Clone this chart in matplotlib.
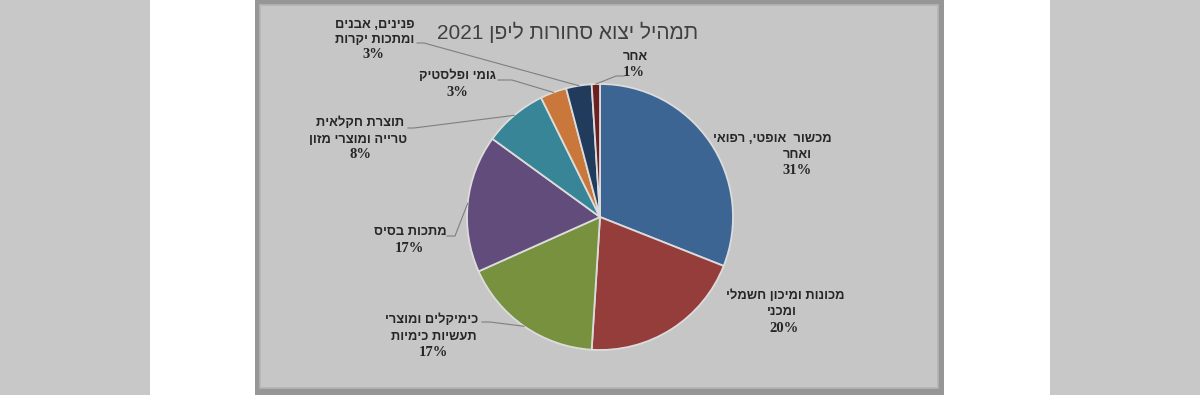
import matplotlib
matplotlib.use("Agg")
import numpy as np
import matplotlib.pyplot as plt
from matplotlib.patches import Rectangle

# data (share of exports, %)
categories = [
    "מכשור אופטי, רפואי ואחר",
    "מכונות ומיכון חשמלי ומכני",
    "כימיקלים ומוצרי תעשיות כימיות",
    "מתכות בסיס",
    "תוצרת חקלאית טרייה ומוצרי מזון",
    "גומי ופלסטיק",
    "פנינים, אבנים ומתכות יקרות",
    "אחר",
]
values = [31.0, 20.0, 17.3, 16.7, 7.7, 3.2, 3.1, 1.0]
label_lines = [
    ["מכשור  אופטי, רפואי", "ואחר"],
    ["מכונות ומיכון חשמלי", "ומכני"],
    ["כימיקלים ומוצרי", "תעשיות כימיות"],
    ["מתכות בסיס"],
    ["תוצרת חקלאית", "טרייה ומוצרי מזון"],
    ["גומי ופלסטיק"],
    ["פנינים, אבנים", "ומתכות יקרות"],
    ["אחר"],
]
title_he = "תמהיל יצוא סחורות ליפן"
title_year = "2021"

colors = ["#3d6593", "#953d3b", "#77913f", "#624c7b", "#378596",
          "#c9773a", "#213b5c", "#6c2020"]

# layout in pixels (figure is 1200 x 395)
W, H = 1200, 395
CX, CY, R = 600, 217, 133

# line centres (x, y) per label line, then percent line
label_pos = [
    [(772, 139), (797, 155), (797, 171)],
    [(785, 296), (782, 312), (784, 328)],
    [(432, 320), (434, 337), (433, 352)],
    [(410, 232), (409, 248)],
    [(360, 123), (358, 140), (360, 155)],
    [(457, 76), (457, 92)],
    [(375, 25), (375, 40), (373, 54)],
    [(635, 57), (634, 73)],
]
# leader start points (label side); the line then runs to the wedge middle
leaders = {
    2: [(482, 322), (490, 322)],
    3: [(447, 236), (455, 236)],
    4: [(408, 128), (414, 128)],
    5: [(498, 80), (512, 80)],
    6: [(417, 43), (424, 43)],
    7: [(624, 76), (616, 76)],
}


def rtl(s):
    # matplotlib has no bidi support, so lay Hebrew out visually
    return s[::-1]


def px(x, y):
    return (x - CX) / R, (CY - y) / R


fig = plt.figure(figsize=(12, 3.95), dpi=100, facecolor="white")

bg = fig.add_axes([0, 0, 1, 1])
bg.set_xlim(0, W)
bg.set_ylim(H, 0)
bg.axis("off")
bg.add_patch(Rectangle((0, 0), 150, H, facecolor="#c8c8c8", edgecolor="none"))
bg.add_patch(Rectangle((1050, 0), 150, H, facecolor="#c8c8c8", edgecolor="none"))
bg.add_patch(Rectangle((255, 0), 689, H, facecolor="#969696", edgecolor="none"))
bg.add_patch(Rectangle((260, 5), 678, 383, facecolor="#c6c6c6",
                       edgecolor="#b5b5b5", linewidth=1.2))

bg.text(698, 39, title_year + " " + rtl(title_he), ha="right", va="baseline",
        fontsize=15, color="#404040", family="Liberation Sans")

ax = fig.add_axes([(CX - R) / W, (H - CY - R) / H, 2 * R / W, 2 * R / H])
wedges, _ = ax.pie(values, colors=colors, startangle=90, counterclock=False,
                   radius=1, wedgeprops=dict(edgecolor="#dcdcdc", linewidth=1.3))
ax.set_xlim(-1, 1)
ax.set_ylim(-1, 1)
ax.axis("off")

for i, w in enumerate(wedges):
    lines = label_lines[i]
    pos = label_pos[i]
    for j, line in enumerate(lines):
        ax.text(*px(*pos[j]), rtl(line), ha="center", va="center",
                fontsize=9.3, fontweight="bold", color="#262626",
                family=["Liberation Sans", "DejaVu Sans"], clip_on=False)
    ax.text(*px(*pos[-1]), f"{round(values[i])}%", ha="center", va="center",
            fontsize=10.5, fontweight="bold", color="#262626",
            family=["Liberation Serif", "DejaVu Serif"], clip_on=False)
    if i in leaders:
        mid = np.deg2rad((w.theta1 + w.theta2) / 2)
        pts = [px(*p) for p in leaders[i]] + [(np.cos(mid), np.sin(mid))]
        xs, ys = zip(*pts)
        ax.plot(xs, ys, color="#7f7f7f", linewidth=0.8, clip_on=False)

fig.savefig("out.png", dpi=100)
